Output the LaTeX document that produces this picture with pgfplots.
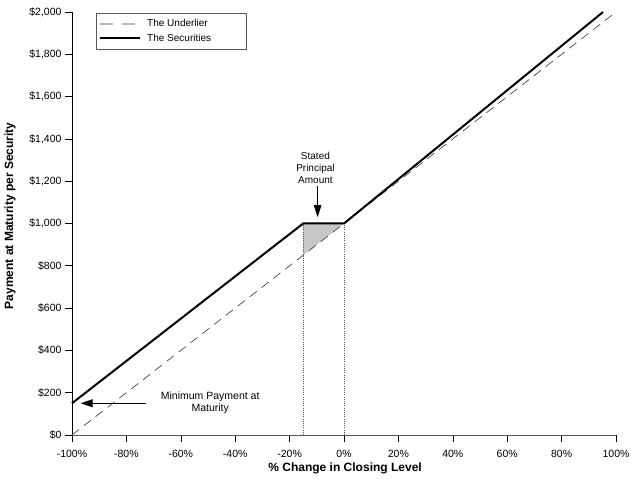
\documentclass[border=0pt]{standalone}
\usepackage{fontspec}
\setmainfont{Liberation Sans}
\usepackage{pgfplots}
\pgfplotsset{compat=1.18}
\usetikzlibrary{arrows.meta}
\begin{document}
\begin{tikzpicture}
\begin{axis}[
  width=544bp, height=423bp, scale only axis,
  xmin=-100, xmax=100, ymin=0, ymax=2000,
  axis x line*=bottom, axis y line*=left,
  x axis line style={gray!70!black, line width=0.8bp},
  y axis line style={black, line width=0.8bp},
  tick align=outside, major tick length=7bp,
  tick style={black, line width=0.6bp},
  xtick={-100,-80,...,100},
  xticklabels={-100\%,-80\%,-60\%,-40\%,-20\%,0\%,20\%,40\%,60\%,80\%,100\%},
  ytick={0,200,...,2000},
  yticklabels={\$0,\$200,\$400,\$600,\$800,{\$1,000},{\$1,200},{\$1,400},{\$1,600},{\$1,800},{\$2,000}},
  ticklabel style={font=\fontsize{10.5bp}{12bp}\selectfont},
  xticklabel style={yshift=-5bp},
  xlabel={\textbf{\% Change in Closing Level}},
  ylabel={\textbf{Payment at Maturity per Security}},
  label style={font=\fontsize{12bp}{14bp}\selectfont},
  xlabel style={at={(axis description cs:0.502,-0.078)}, anchor=center},
  ylabel style={at={(axis description cs:-0.114,0.518)}, anchor=center, rotate=0},
  legend style={at={(0.044,0.998)}, anchor=north west, draw=gray!70!black, line width=0.6bp,
    inner xsep=3bp, inner ysep=4.5bp, font=\fontsize{10bp}{12bp}\selectfont,
    row sep=1.5bp},
  legend cell align=left,
  legend image code/.code={\draw[#1] (0bp,0bp) -- (40bp,0bp); \path (44bp,0bp);},
  clip=false,
]
\addplot[fill=gray!45, draw=none, forget plot] coordinates {(-15,1000) (0,1000) (-15,850)} -- cycle;
\addplot[gray!70!black, line width=0.7bp, dash pattern=on 1bp off 1.2bp, forget plot] coordinates {(-15,0) (-15,1000)};
\addplot[gray!70!black, line width=0.7bp, dash pattern=on 1bp off 1.2bp, forget plot] coordinates {(0,0) (0,1000)};
\addplot[black!80, line width=0.6bp, dash pattern=on 9bp off 6bp, forget plot] coordinates {(-100,0) (100,2000)};
\addplot[black, line width=2bp, forget plot] coordinates {(-100,150) (-15,1000) (0,1000) (95.24,2000)};
\addlegendimage{gray!55, line width=1.4bp, dash pattern=on 13bp off 9bp}
\addlegendentry{The Underlier}
\addlegendimage{black, line width=2bp}
\addlegendentry{\makebox[94bp][l]{The Securities}}
\draw[black, line width=0.6bp, -{Triangle[length=12bp,width=7.5bp]}] (axis cs:-9.7,1175) -- (axis cs:-9.7,1030);
\node[align=center, font=\fontsize{10bp}{12bp}\selectfont] at (axis cs:-10.5,1262) {Stated\\Principal\\Amount};
\draw[black, line width=0.6bp, -{Triangle[length=12bp,width=8bp]}] (axis cs:-72.8,150) -- (axis cs:-96.8,150);
\node[align=center, font=\fontsize{10.5bp}{12bp}\selectfont] at (axis cs:-49.2,150) {Minimum Payment at\\Maturity};
\end{axis}
\pgfresetboundingbox
\path[use as bounding box] (-72bp,-45bp) rectangle (568bp,435bp);
\end{tikzpicture}
\end{document}
